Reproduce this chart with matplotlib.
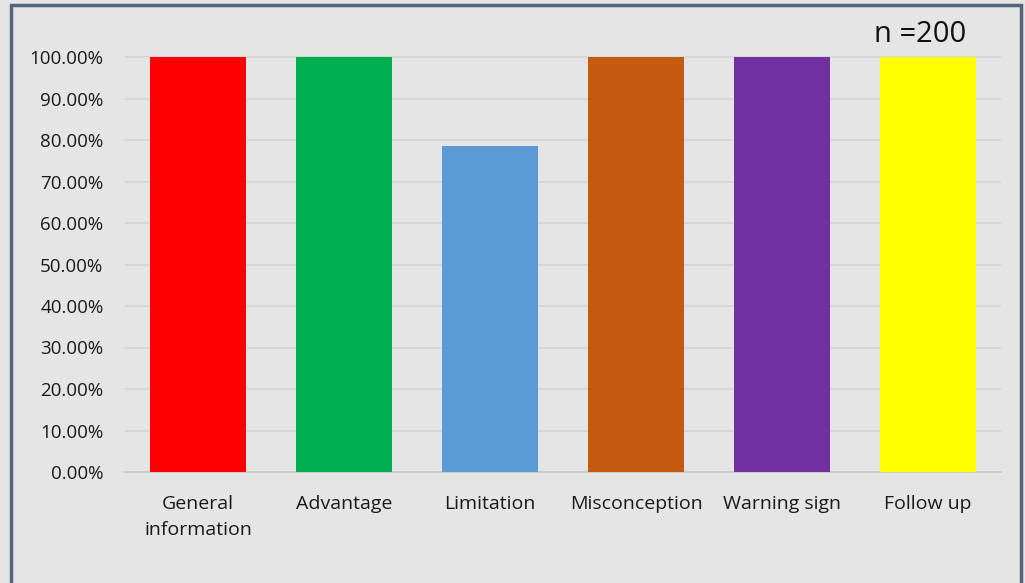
import matplotlib
matplotlib.use("Agg")
import matplotlib.pyplot as plt
from matplotlib.patches import Rectangle
from matplotlib.ticker import PercentFormatter

categories = ["General\ninformation", "Advantage", "Limitation",
              "Misconception", "Warning sign", "Follow up"]
values = [100.0, 100.0, 78.5, 100.0, 100.0, 100.0]
colors = ["#ff0000", "#00b050", "#5b9bd5", "#c55a11", "#7030a0", "#ffff00"]
yticks = [0, 10, 20, 30, 40, 50, 60, 70, 80, 90, 100]

plt.rcParams["font.family"] = ["Open Sans", "DejaVu Sans"]

W, H = 1025, 583
fig = plt.figure(figsize=(W / 100, H / 100), dpi=100)
bg = "#e5e5e5"
fig.patch.set_facecolor(bg)

ymax = 102
top_px = 57 - (ymax - 100) / 100 * 415
ax = fig.add_axes([125 / W, (H - 472) / H, (1001 - 125) / W, (472 - top_px) / H])
ax.set_facecolor(bg)

x = range(len(categories))
ax.bar(x, values, width=0.66, color=colors, zorder=3)

ax.set_xlim(-0.5, len(categories) - 0.5)
ax.set_ylim(0, ymax)
ax.set_yticks(yticks)
ax.yaxis.set_major_formatter(PercentFormatter(decimals=2))
ax.set_xticks(list(x))
ax.set_xticklabels(categories, linespacing=1.55)
ax.tick_params(axis="both", length=0, labelsize=13.5, colors="#1a1a1a")
ax.tick_params(axis="x", pad=16.5, labelsize=14)
ax.tick_params(axis="y", pad=15.5)
ax.grid(axis="y", color="#d4d4d4", linewidth=1.1, zorder=0)
for s in ["top", "right", "left"]:
    ax.spines[s].set_visible(False)
ax.spines["bottom"].set_color("#c8c8c8")
ax.spines["bottom"].set_linewidth(1.2)

fig.text(920 / W, (H - 34) / H, "n =200", fontsize=21, ha="center", va="center",
         color="#111111")

# outer frame
fig.patches.append(Rectangle((11 / W, -0.05), (1021 - 11) / W, (H - 5) / H + 0.05,
                             transform=fig.transFigure, fill=False,
                             edgecolor="#56647a", linewidth=2.5))

fig.savefig("out.png", dpi=100, facecolor=bg)
